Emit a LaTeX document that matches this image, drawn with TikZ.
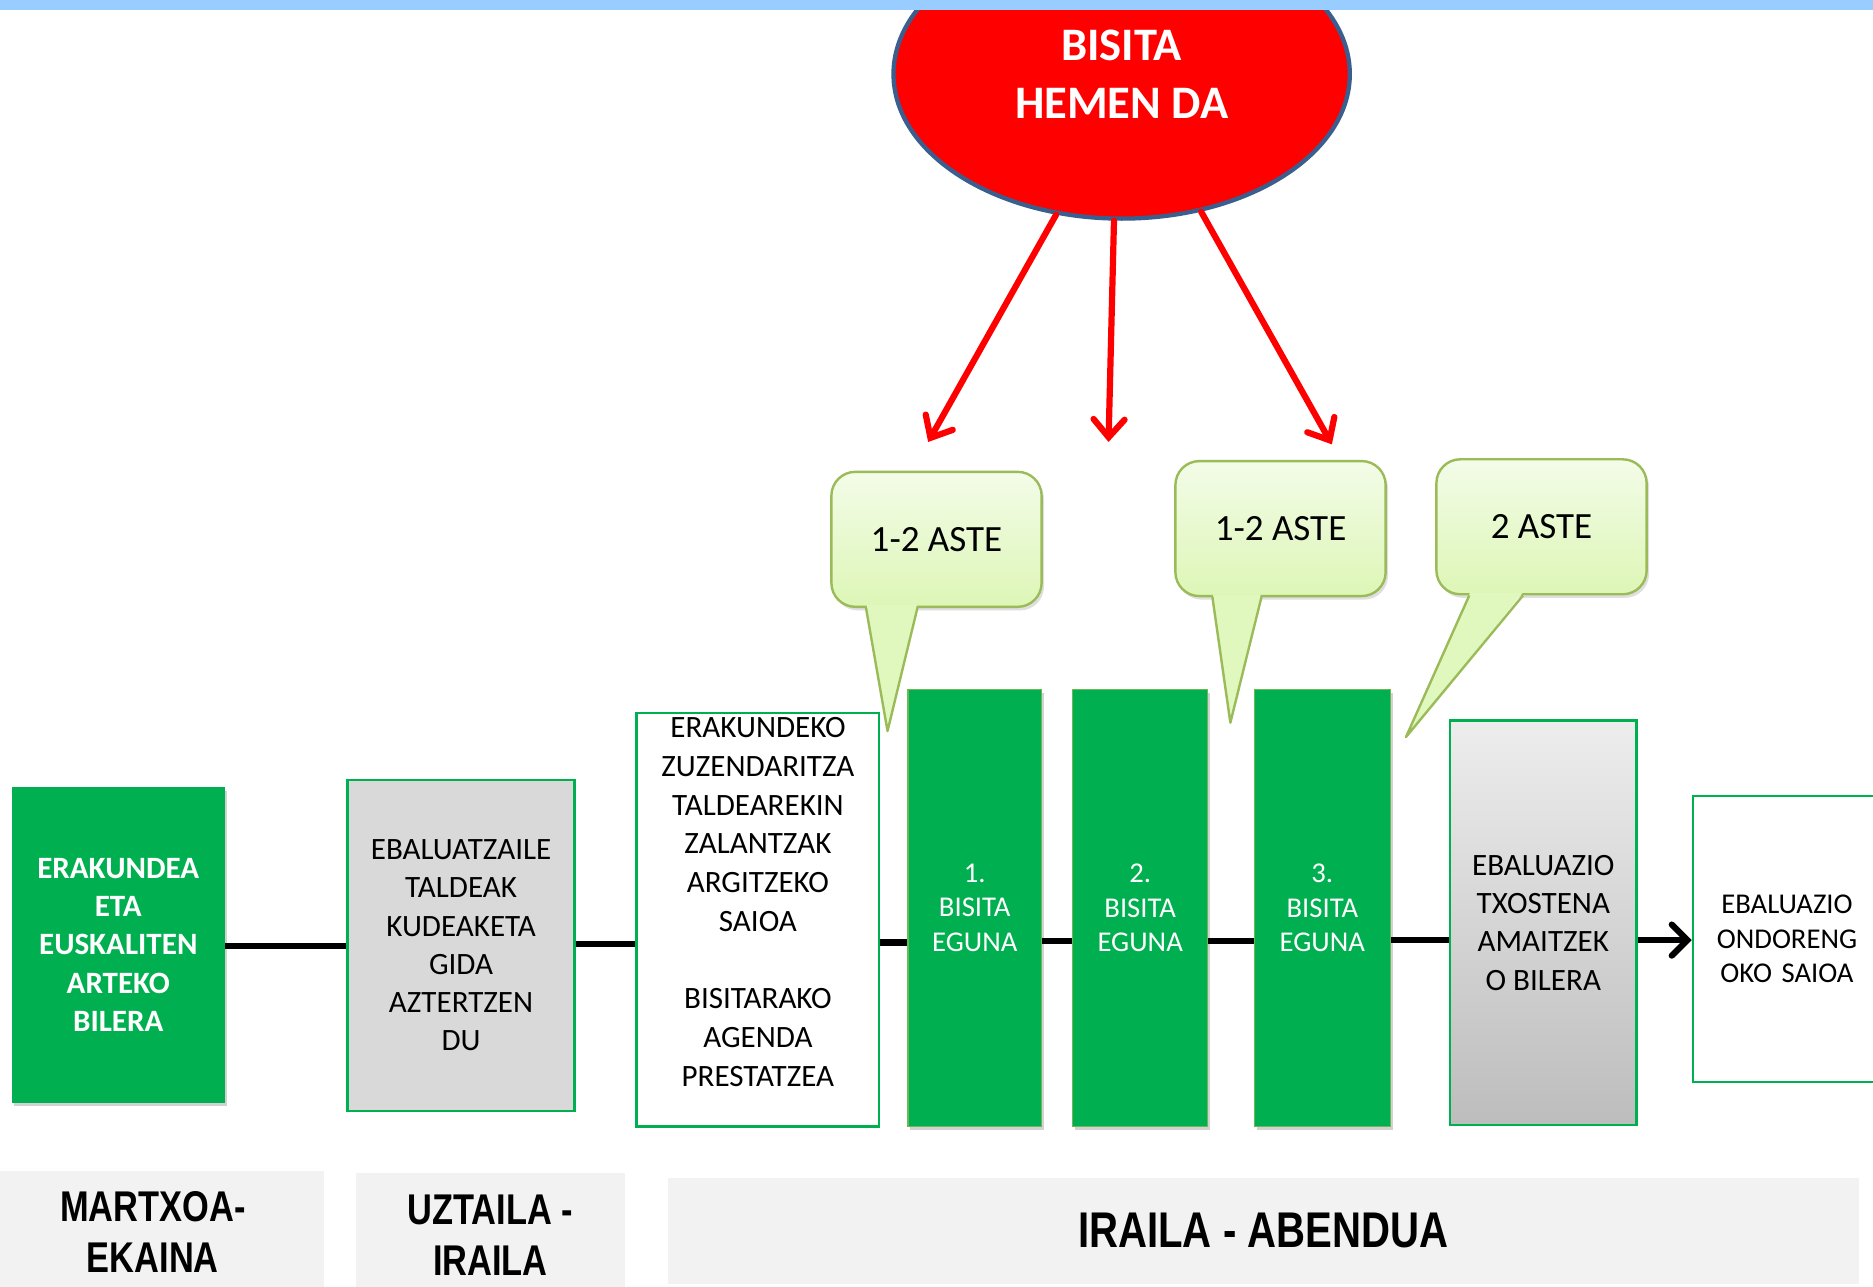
\documentclass[tikz,border=0pt]{standalone}
\usepackage{fontspec}
\setmainfont{Carlito}
\newfontfamily\narrowfont[FakeStretch=0.8]{Liberation Sans}
\usetikzlibrary{shapes.geometric,arrows.meta,shadows}
\definecolor{barblue}{HTML}{99CCFF}
\definecolor{ellred}{HTML}{FF0000}
\definecolor{elledge}{HTML}{3A5F8F}
\definecolor{grn}{HTML}{00B050}
\definecolor{olive}{HTML}{9BBB59}
\definecolor{calltop}{HTML}{F3FCE8}
\definecolor{callbot}{HTML}{DDF6B6}
\definecolor{tailcol}{HTML}{E0F8BE}
\definecolor{lblgray}{HTML}{F2F2F2}
\definecolor{boxgray}{HTML}{D9D9D9}
\tikzset{
  greenbox/.style={rectangle, fill=grn, draw=olive!70!grn, line width=0.6pt, text=white, align=center,
    drop shadow={shadow xshift=1pt, shadow yshift=-1.5pt, opacity=0.35}},
  outlinebox/.style={rectangle, draw=grn, line width=1pt, align=center},
  callout/.style={rectangle, rounded corners=10pt, top color=calltop, bottom color=callbot,
    draw=olive, line width=1pt, minimum width=88pt, minimum height=56.5pt,
    font=\fontsize{15.5}{18}\selectfont,
    drop shadow={shadow xshift=1pt, shadow yshift=-1.5pt, opacity=0.25}},
  redarrow/.style={draw=ellred, line width=2.6pt, line cap=round, -{Straight Barb[length=7.5pt,width=13pt,line cap=round]}},
  tline/.style={draw=black, line width=2.6pt},
  period/.style={rectangle, fill=lblgray, align=center, inner sep=0pt},
  bodytext/.style={font=\fontsize{13}{16}\selectfont},
  daytext/.style={font=\fontsize{12}{14.5}\selectfont}
}
\begin{document}
\begin{tikzpicture}[x=0.5pt,y=-0.5pt]
\useasboundingbox (0,0) rectangle (1568,1077);
\clip (0,0) rectangle (1568,1077);
\fill[white] (0,0) rectangle (1568,1077);

% red ellipse
\node[ellipse, fill=ellred, draw=elledge, line width=1.8pt, minimum width=191pt, minimum height=121pt,
  text=white, align=center, font=\bfseries\fontsize{19.5}{24}\selectfont] (ell) at (939,62) {BISITA\\HEMEN DA};
% top bar
\fill[barblue] (0,0) rectangle (1568,8);

% arrow targets
\coordinate (t1) at (777,370);
\coordinate (t2) at (928,370);
\coordinate (t3) at (1115,372);
\draw[redarrow] (ell.245) -- (t1);
\draw[redarrow] (ell.267) -- (t2);
\draw[redarrow] (ell.300) -- (t3);

% timeline level
\coordinate (lvl) at (0,789);

% boxes
\node[greenbox, draw=none, minimum width=89pt, minimum height=132pt, font=\bfseries\fontsize{13}{16}\selectfont]
  (A) at (99,791) {ERAKUNDEA\\ETA\\EUSKALITEN\\ARTEKO\\BILERA};
\node[outlinebox, fill=boxgray, minimum width=95pt, minimum height=138.5pt, bodytext]
  (B) at (386,791.5) {EBALUATZAILE\\TALDEAK\\KUDEAKETA\\GIDA\\AZTERTZEN\\DU};
\node[outlinebox, fill=white, minimum width=101.5pt, minimum height=173pt] (C) at (634.5,770) {};
\node[align=center, font=\fontsize{13}{16.2}\selectfont, inner sep=0pt] (Ct) at (634.5,755)
  {ERAKUNDEKO\\ZUZENDARITZA\\TALDEAREKIN\\ZALANTZAK\\ARGITZEKO\\SAIOA\\[16.2pt]BISITARAKO\\AGENDA\\PRESTATZEA};
\node[greenbox, minimum width=56pt, minimum height=183pt, daytext] (D) at (816,760) {1.\\BISITA\\EGUNA};
\node[greenbox, minimum width=56.5pt, minimum height=183pt, daytext] (E) at (954.5,760) {2.\\BISITA\\EGUNA};
\node[greenbox, minimum width=57pt, minimum height=183pt, daytext] (F) at (1107,760) {3.\\BISITA\\EGUNA};
\node[outlinebox, top color=black!7, bottom color=black!26, minimum width=78pt, minimum height=169.5pt, bodytext]
  (G) at (1292,772.5) {EBALUAZIO\\TXOSTENA\\AMAITZEK\\O BILERA};
\node[outlinebox, line width=0.8pt, fill=white, minimum width=79pt, minimum height=120pt, daytext, text width=66pt]
  (H) at (1496,786) {EBALUAZIO\\ONDORENG\\OKO SAIOA};

% timeline connectors
\draw[tline] (A.east |- 0,792) -- (B.west |- 0,792);
\draw[tline] (B.east |- 0,790) -- (C.west |- 0,790);
\draw[tline] (C.east |- lvl) -- (D.west |- lvl);
\draw[tline] (D.east |- 0,788) -- (E.west |- 0,788);
\draw[tline] (E.east |- 0,788) -- (F.west |- 0,788);
\draw[tline] (F.east |- 0,787) -- (G.west |- 0,787);
\draw[tline, -{Straight Barb[length=6.5pt,width=13pt,line cap=round]}] (G.east |- 0,787) -- (H.west |- 0,787);

% callouts
\node[callout] (c1) at (784,451.5) {1-2 ASTE};
\fill[tailcol] (725.5,506.5) -- (743,611) -- (767.5,506.5) -- cycle;
\coordinate (p1) at (743,612);
\draw[olive, line width=1pt, line join=round] (c1.south -| 725,0) -- (p1) -- (c1.south -| 768,0);

\node[callout] (c2) at (1072,442.5) {1-2 ASTE};
\fill[tailcol] (1015.5,497.5) -- (1030,604) -- (1055.5,497.5) -- cycle;
\coordinate (p2) at (1030,605);
\draw[olive, line width=1pt, line join=round] (c2.south -| 1015,0) -- (p2) -- (c2.south -| 1056,0);

\node[callout] (c3) at (1290.5,441) {2 ASTE};
\fill[tailcol] (1230.5,496.5) -- (1178,616) -- (1274.5,496.5) -- cycle;
\coordinate (p3) at (1177,617);
\draw[olive, line width=1pt, line join=round] (c3.south -| 1230,0) -- (p3) -- (c3.south -| 1275,0);

% period labels
\node[period, minimum width=143pt, minimum height=51.5pt, font=\narrowfont\bfseries\fontsize{18}{21.5}\selectfont]
  (L1) at (128,1031.5) {MARTXOA-\\EKAINA};
\node[period, minimum width=112.5pt, minimum height=52pt, font=\narrowfont\bfseries\fontsize{18}{21.5}\selectfont]
  (L2) at (410.5,1034) {UZTAILA -\\IRAILA};
\node[period, minimum width=498.5pt, minimum height=44.5pt, font=\narrowfont\bfseries\fontsize{21}{25}\selectfont]
  (L3) at (1057.5,1030.5) {IRAILA - ABENDUA};
\end{tikzpicture}
\end{document}
